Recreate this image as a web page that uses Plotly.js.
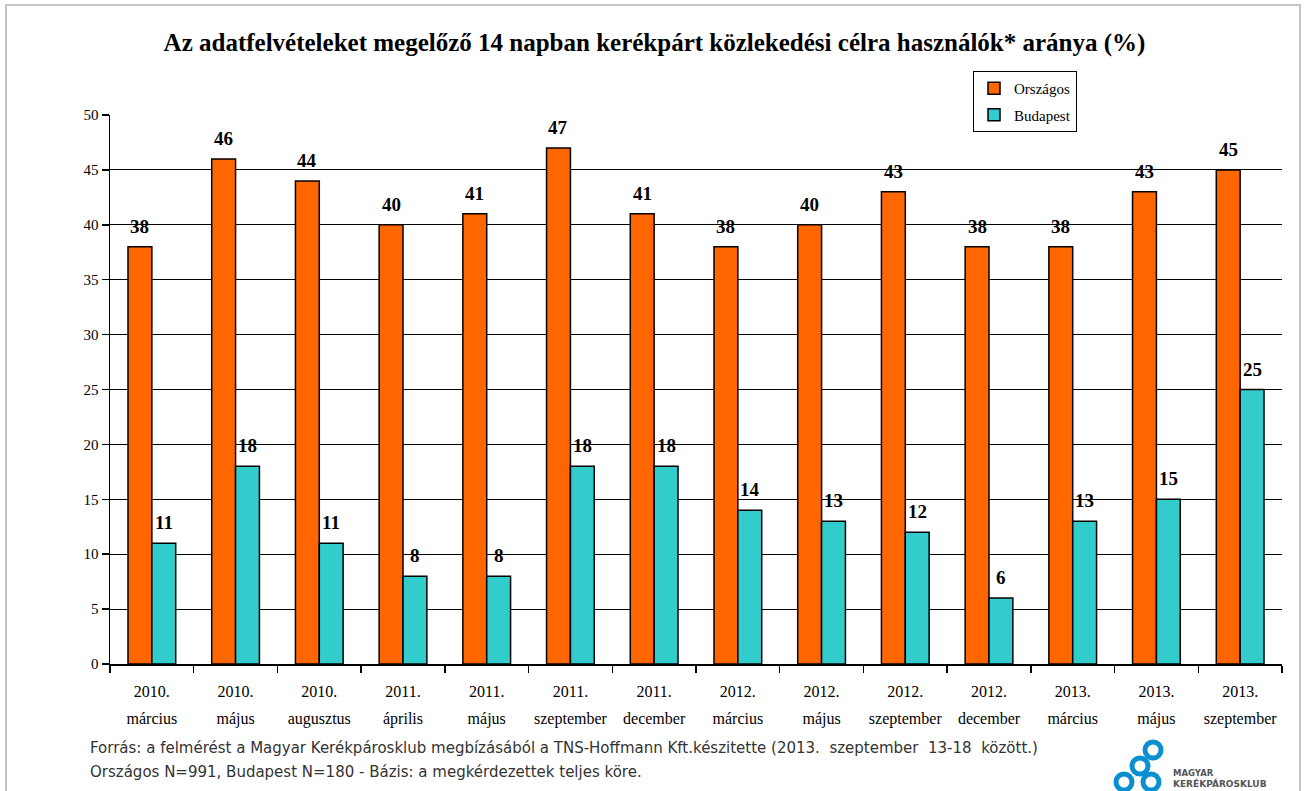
<!DOCTYPE html>
<html>
<head>
<meta charset="utf-8">
<script src="https://cdn.plot.ly/plotly-3.0.1.min.js"></script>
<style>
html,body{margin:0;padding:0;background:#fff;}
#wrap{position:relative;width:1309px;height:791px;overflow:hidden;}
#chart{position:absolute;left:0;top:0;width:1309px;height:791px;}
#frame{position:absolute;left:5px;top:4px;width:1296px;height:820px;border:2px solid #c4c4c4;pointer-events:none;box-sizing:border-box;}
</style>
</head>
<body>
<div id="wrap"><div id="chart"></div><div id="frame"></div></div>
<script>
const years = ["2010.","2010.","2010.","2011.","2011.","2011.","2011.","2012.","2012.","2012.","2012.","2013.","2013.","2013."];
const months = ["március","május","augusztus","április","május","szeptember","december","március","május","szeptember","december","március","május","szeptember"];
const categories = years.map((y,i)=>y+" "+months[i]);
const orszagos = [38,46,44,40,41,47,41,38,40,43,38,38,43,45];
const budapest = [11,18,11,8,8,18,18,14,13,12,6,13,15,25];
const seriesNames = ["Országos","Budapest"];
const titleText = "Az adatfelvételeket megelőző 14 napban kerékpárt közlekedési célra használók* aránya (%)";
const footer1 = "Forrás: a felmérést a Magyar Kerékpárosklub megbízásából a TNS-Hoffmann Kft.készitette (2013.  szeptember  13-18  között.)";
const footer2 = "Országos N=991, Budapest N=180 - Bázis: a megkérdezettek teljes köre.";

const L=110, R=1282, T=115, B=664;
const W=R-L, H=B-T;
const px = x => (x-L)/W;
const py = y => (B-y)/H;

const serif = "Liberation Serif, Times New Roman, serif";
const tickText = years.map((y,i)=>"<span style='font-size:16px'>"+y+"</span><br><span style='font-size:16px'>"+months[i]+"</span>");

const traces = [
  {type:"bar", name:seriesNames[0], x:categories, y:orszagos, legendgroup:"a",
   marker:{color:"#FF6600", line:{color:"#000", width:1.5}}},
  {type:"bar", name:seriesNames[1], x:categories, y:budapest, legendgroup:"b",
   marker:{color:"#33CCCC", line:{color:"#000", width:1.5}}}
];

const annotations = [];
[orszagos,budapest].forEach((arr,k)=>{
  arr.forEach((v,i)=>{
    annotations.push({x:categories[i], y:v, xref:"x", yref:"y", text:String(v), showarrow:false,
      xshift:(k===0?-12:12), yshift:8, yanchor:"bottom",
      font:{family:serif, size:19, color:"#000", weight:"bold"}});
  });
});
annotations.push({xref:"paper", yref:"paper", x:px(88), y:py(748), xanchor:"left", yanchor:"middle",
  text:footer1, showarrow:false, font:{family:"DejaVu Sans, Verdana, sans-serif", size:15, color:"#333"}});
annotations.push({xref:"paper", yref:"paper", x:px(88), y:py(772), xanchor:"left", yanchor:"middle",
  text:footer2, showarrow:false, font:{family:"DejaVu Sans, Verdana, sans-serif", size:15, color:"#333"}});
annotations.push({xref:"paper", yref:"paper", x:px(1171), y:py(773), xanchor:"left", yanchor:"middle",
  text:"MAGYAR", showarrow:false, font:{family:"DejaVu Sans, sans-serif", size:8.5, color:"#555", weight:"bold"}});
annotations.push({xref:"paper", yref:"paper", x:px(1171), y:py(783), xanchor:"left", yanchor:"middle",
  text:"KERÉKPÁROSKLUB", showarrow:false, font:{family:"DejaVu Sans, sans-serif", size:9, color:"#555", weight:"bold"}});

const rings = [[1153,750],[1140,766],[1124,782],[1151,782]];
const shapes = rings.map(([cx,cy])=>({type:"circle", xref:"paper", yref:"paper",
  x0:px(cx-8), x1:px(cx+8), y0:py(cy+8), y1:py(cy-8),
  line:{color:"#0a8fd0", width:5}, fillcolor:"#fff", layer:"above"}));

const layout = {
  width:1309, height:791,
  margin:{l:L, r:1309-R, t:T, b:791-B},
  paper_bgcolor:"#fff", plot_bgcolor:"#fff",
  title:{text:"<b>"+titleText+"</b>", x:0.5, xanchor:"center", y:1-42/791, yanchor:"middle",
    font:{family:serif, size:25, color:"#000"}},
  barmode:"group", bargap:0.43, bargroupgap:0,
  showlegend:true,
  legend:{x:px(973), y:py(71), xanchor:"left", yanchor:"top", bgcolor:"#fff",
    bordercolor:"#000", borderwidth:1, font:{family:serif, size:15, color:"#000"},
    traceorder:"grouped", tracegroupgap:4, itemwidth:30},
  xaxis:{type:"category", tickmode:"array", tickvals:categories, ticktext:tickText,
    tickson:"boundaries", ticks:"outside", ticklen:7, tickcolor:"#000", tickwidth:1.5,
    showline:true, linecolor:"#000", linewidth:1.5, showgrid:false, ticklabelstandoff:6,
    tickfont:{family:serif, size:21, color:"#000"}, fixedrange:true},
  yaxis:{range:[0,50], dtick:5, tick0:0, ticks:"outside", ticklen:7, tickcolor:"#000", tickwidth:1.5,
    showline:true, linecolor:"#000", linewidth:1.5, showgrid:true, gridcolor:"#000", gridwidth:1,
    zeroline:false, tickfont:{family:serif, size:15, color:"#000"}, fixedrange:true},
  annotations:annotations,
  shapes:shapes
};

Plotly.newPlot("chart", traces, layout, {displayModeBar:false, staticPlot:true});
</script>
</body>
</html>
